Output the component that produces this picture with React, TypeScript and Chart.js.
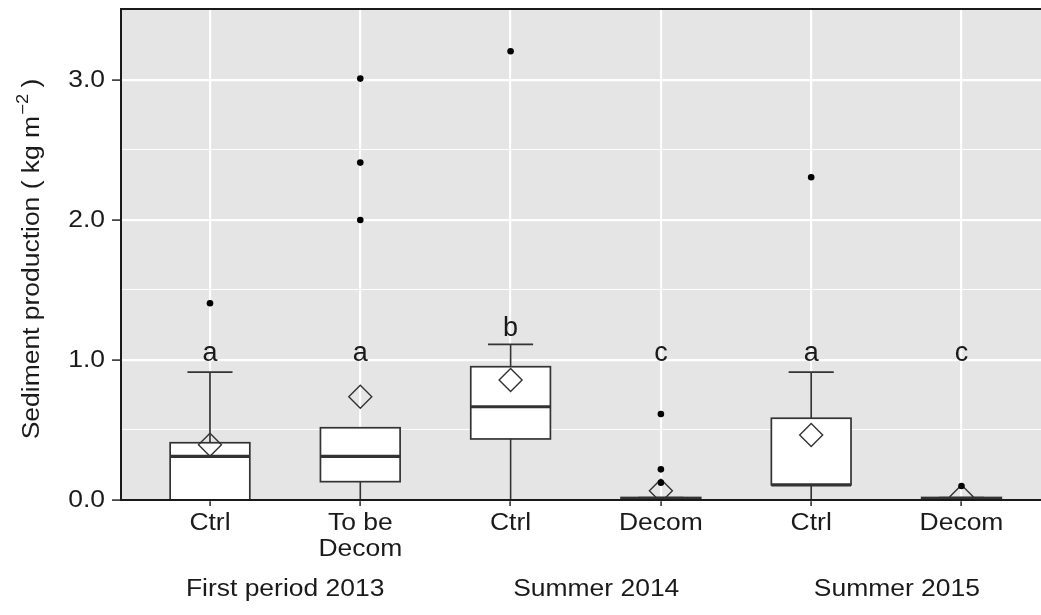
import React, { useEffect, useRef } from "react";
import { Chart, registerables } from "chart.js";

Chart.register(...registerables);

// ---------------- data ----------------
const categoryLabels: string[][] = [["Ctrl"], ["To be", "Decom"], ["Ctrl"], ["Decom"], ["Ctrl"], ["Decom"]];
const groupLabels = ["First period 2013", "Summer 2014", "Summer 2015"];
const letterLabels = ["a", "a", "b", "c", "a", "c"];
const letterValues = [0.99, 0.99, 1.17, 0.99, 0.99, 0.99];

const whiskerLow = [0, 0, 0, 0, 0, 0];
const q1Values = [0, 0.131, 0.436, 0, 0.108, 0];
const medianValues = [0.312, 0.312, 0.666, 0.008, 0.108, 0.008];
const q3Values = [0.409, 0.516, 0.952, 0.018, 0.584, 0.018];
const whiskerHigh = [0.914, 0.516, 1.112, 0.018, 0.914, 0.018];
const meanValues = [0.395, 0.738, 0.857, 0.066, 0.464, 0.025];
const outlierValues: number[][] = [
  [1.405],
  [3.01, 2.41, 2.0],
  [3.205],
  [0.614, 0.219, 0.124],
  [2.305],
  [0.1],
];

const yTickValues = [0, 0.5, 1, 1.5, 2, 2.5, 3, 3.5];
const yMajorTicks = [0, 1, 2, 3];
const yTickLabels = ["0.0", "1.0", "2.0", "3.0"];
const yTitle = "Sediment production ( kg m";
const yTitleSup = "\u22122";
const yTitleEnd = ")";

// ---------------- layout / style ----------------
const W = 1041;
const H = 615;
const FONT = "'Liberation Sans', Arial, Helvetica, sans-serif";
const FS = 23;
const SX = 1.15;
const LETTER_FS = 27;
const TEXT_COLOR = "#1A1A1A";
const BOX_HALF = 0.265;
const CAP_HALF = 0.15;
const groupCenters = [1.5, 3.57, 5.57];

function drawText(ctx: any, text: string, x: number, y: number, align: string, baseline: string, size: number, sx: number) {
  ctx.save();
  ctx.font = `${size}px ${FONT}`;
  ctx.textAlign = align;
  ctx.textBaseline = baseline;
  ctx.translate(x, y);
  ctx.scale(sx, 1);
  ctx.fillText(text, 0, 0);
  ctx.restore();
}

const boxPlugin = {
  id: "ggbox",
  beforeDraw(chart: any) {
    const { ctx, chartArea: a } = chart;
    ctx.save();
    ctx.fillStyle = "#E5E5E5";
    ctx.fillRect(a.left, a.top, a.right - a.left, a.bottom - a.top);
    ctx.restore();
  },
  beforeDatasetsDraw(chart: any) {
    const { ctx } = chart;
    const xs = chart.scales.x;
    const ys = chart.scales.y;
    ctx.save();
    ctx.strokeStyle = "#333333";
    for (let i = 0; i < q1Values.length; i++) {
      const cx = xs.getPixelForValue(i + 1);
      const xl = xs.getPixelForValue(i + 1 - BOX_HALF);
      const xr = xs.getPixelForValue(i + 1 + BOX_HALF);
      const cl = xs.getPixelForValue(i + 1 - CAP_HALF);
      const cr = xs.getPixelForValue(i + 1 + CAP_HALF);
      const yq1 = ys.getPixelForValue(q1Values[i]);
      const yq3 = ys.getPixelForValue(q3Values[i]);
      const ymed = ys.getPixelForValue(medianValues[i]);
      const ylo = ys.getPixelForValue(whiskerLow[i]);
      const yhi = ys.getPixelForValue(whiskerHigh[i]);
      ctx.lineWidth = 1.7;
      ctx.beginPath();
      ctx.moveTo(cx, yq3);
      ctx.lineTo(cx, yhi);
      ctx.moveTo(cx, yq1);
      ctx.lineTo(cx, ylo);
      ctx.moveTo(cl, yhi);
      ctx.lineTo(cr, yhi);
      ctx.moveTo(cl, ylo);
      ctx.lineTo(cr, ylo);
      ctx.stroke();
      ctx.fillStyle = "#FFFFFF";
      ctx.fillRect(xl, yq3, xr - xl, yq1 - yq3);
      ctx.strokeRect(xl, yq3, xr - xl, yq1 - yq3);
      ctx.lineWidth = 3.2;
      ctx.beginPath();
      ctx.moveTo(xl, ymed);
      ctx.lineTo(xr, ymed);
      ctx.stroke();
    }
    ctx.restore();
  },
  afterDatasetsDraw(chart: any) {
    const { ctx, chartArea: a } = chart;
    const xs = chart.scales.x;
    const ys = chart.scales.y;
    ctx.save();
    ctx.strokeStyle = "#1A1A1A";
    ctx.lineWidth = 2;
    ctx.beginPath();
    ctx.moveTo(a.left - 1, a.top);
    ctx.lineTo(a.right, a.top);
    ctx.moveTo(a.left, a.top);
    ctx.lineTo(a.left, a.bottom);
    ctx.moveTo(a.left - 1, a.bottom);
    ctx.lineTo(a.right, a.bottom);
    ctx.stroke();
    ctx.fillStyle = TEXT_COLOR;
    letterLabels.forEach((l, i) => {
      drawText(ctx, l, xs.getPixelForValue(i + 1), ys.getPixelForValue(letterValues[i]), "center", "alphabetic", LETTER_FS, 1);
    });
    ctx.restore();
  },
  afterDraw(chart: any) {
    const { ctx } = chart;
    const xs = chart.scales.x;
    const ys = chart.scales.y;
    ctx.save();
    ctx.fillStyle = TEXT_COLOR;
    // x tick labels
    categoryLabels.forEach((lines, i) => {
      const x = xs.getPixelForValue(i + 1);
      lines.forEach((t, j) => drawText(ctx, t, x, 530 + j * 26, "center", "alphabetic", FS, SX));
    });
    // y tick labels
    yMajorTicks.forEach((v, i) => {
      drawText(ctx, yTickLabels[i], 105, ys.getPixelForValue(v) + 1, "right", "middle", FS, SX);
    });
    // group labels
    groupLabels.forEach((g, i) => {
      drawText(ctx, g, xs.getPixelForValue(groupCenters[i]), 596, "center", "alphabetic", FS, SX);
    });
    // y title with superscript (rotated)
    const supSize = Math.round(FS * 0.7);
    ctx.font = `${FS}px ${FONT}`;
    const w1 = ctx.measureText(yTitle).width * SX;
    const w3 = ctx.measureText(" " + yTitleEnd).width * SX;
    ctx.font = `${supSize}px ${FONT}`;
    const w2 = ctx.measureText(yTitleSup).width * SX;
    const total = w1 + w2 + w3;
    ctx.translate(33, 259);
    ctx.rotate(-Math.PI / 2);
    let x = -total / 2;
    drawText(ctx, yTitle, x, 0, "left", "middle", FS, SX);
    x += w1;
    drawText(ctx, yTitleSup, x + 1, -FS * 0.42, "left", "middle", supSize, SX);
    x += w2;
    drawText(ctx, " " + yTitleEnd, x, 0, "left", "middle", FS, SX);
    ctx.restore();
  },
};

export default function App() {
  const ref = useRef<HTMLCanvasElement | null>(null);
  useEffect(() => {
    if (!ref.current) return;
    const outlierPts: { x: number; y: number }[] = [];
    outlierValues.forEach((arr, i) => arr.forEach((v) => outlierPts.push({ x: i + 1, y: v })));
    const meanPts = meanValues.map((v, i) => ({ x: i + 1, y: v }));
    const chart = new Chart(ref.current, {
      type: "scatter",
      data: {
        datasets: [
          {
            label: "outliers",
            data: outlierPts,
            pointStyle: "circle",
            pointRadius: 3.3,
            backgroundColor: "#000000",
            borderColor: "#000000",
            borderWidth: 0,
          },
          {
            label: "mean",
            data: meanPts,
            pointStyle: "rectRot",
            pointRadius: 11.5,
            backgroundColor: "rgba(0,0,0,0)",
            borderColor: "#333333",
            borderWidth: 1.4,
          },
        ],
      },
      options: {
        animation: false,
        responsive: false,
        maintainAspectRatio: false,
        devicePixelRatio: 1,
        layout: { autoPadding: false, padding: { left: 0, right: 0, top: 9, bottom: 0 } },
        plugins: { legend: { display: false }, tooltip: { enabled: false } },
        events: [],
        scales: {
          x: {
            type: "linear",
            min: 0.408,
            max: 6.529,
            afterBuildTicks: (s: any) => {
              s.ticks = categoryLabels.map((_, i) => ({ value: i + 1 }));
            },
            afterFit: (s: any) => {
              s.height = H - 500;
              s.paddingLeft = 0;
              s.paddingRight = 0;
            },
            border: { display: false },
            grid: {
              color: "#FFFFFF",
              lineWidth: 2.2,
              drawTicks: true,
              tickLength: 6,
              tickColor: "#333333",
              tickWidth: 1.6,
            },
            ticks: { display: false },
          },
          y: {
            type: "linear",
            min: 0,
            max: 3.507,
            afterBuildTicks: (s: any) => {
              s.ticks = yTickValues.map((v) => ({ value: v }));
            },
            afterFit: (s: any) => {
              s.width = 121;
              s.paddingTop = 0;
              s.paddingBottom = 0;
            },
            border: { display: false },
            grid: {
              color: "#FFFFFF",
              lineWidth: (c: any) => (yMajorTicks.includes(c.tick?.value) ? 2.2 : 1.1),
              drawTicks: true,
              tickLength: 9,
              tickColor: (c: any) => (yMajorTicks.includes(c.tick?.value) ? "#333333" : "rgba(0,0,0,0)"),
              tickWidth: 1.6,
            },
            ticks: { display: false },
          },
        },
      },
      plugins: [boxPlugin],
    } as any);
    return () => chart.destroy();
  }, []);
  return (
    <div style={{ position: "fixed", left: 0, top: 0, width: W, height: H, background: "#FFFFFF" }}>
      <canvas ref={ref} width={W} height={H} style={{ width: W, height: H, display: "block" }} />
    </div>
  );
}
